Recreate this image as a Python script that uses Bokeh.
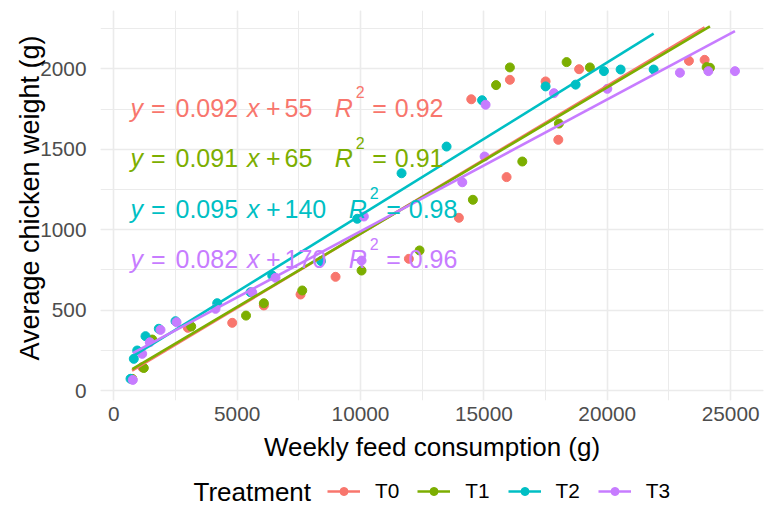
import numpy as np
from bokeh.plotting import figure
from bokeh.layouts import column
from bokeh.models import Range1d, SingleIntervalTicker, Label, Legend, LegendItem
from bokeh.embed import file_html
from bokeh.resources import INLINE

# ---------------- data ----------------
treatments = ["T0", "T1", "T2", "T3"]
colors = ["#F8766D", "#7CAE00", "#00BFC4", "#C77CFF"]

t0_feed = [740, 1151, 3000, 4800, 6081, 7569, 8988, 11960, 13986, 15920, 18016,
           14489, 16054, 17501, 18859, 23310, 23947]
t0_weight = [72, 145, 390, 421, 529, 597, 707, 819, 1074, 1327, 1559,
             1811, 1932, 1922, 1998, 2050, 2056]

t1_feed = [750, 1216, 1557, 3138, 5359, 6081, 7638, 10042, 12393, 14554, 16557,
           18040, 15494, 16054, 18353, 19297, 24029, 24162]
t1_weight = [72, 140, 317, 398, 466, 543, 622, 746, 871, 1186, 1424,
             1660, 1899, 2009, 2042, 2009, 2011, 2007]

t2_feed = [677, 811, 949, 1285, 1824, 2501, 4192, 5542, 6422, 8400, 9868,
           11663, 13488, 14927, 17501, 18718, 19865, 20542, 21880]
t2_weight = [73, 197, 249, 338, 384, 431, 543, 611, 715, 805, 1068,
             1351, 1517, 1805, 1891, 1902, 1986, 1996, 1996]

t3_feed = [770, 1151, 1459, 1893, 2542, 4123, 5611, 6555, 10042, 10135, 14124,
           15029, 15069, 17838, 20003, 22946, 24097, 25176]
t3_weight = [66, 228, 300, 377, 425, 508, 611, 701, 808, 1082, 1295,
             1455, 1777, 1849, 1876, 1976, 1986, 1986]

slopes = [0.092, 0.091, 0.095, 0.082]
intercepts = [55, 65, 140, 170]
r_squared = [0.92, 0.91, 0.98, 0.96]

x_ticks = [0, 5000, 10000, 15000, 20000, 25000]
y_ticks = [0, 500, 1000, 1500, 2000]

feeds = [t0_feed, t1_feed, t2_feed, t3_feed]
weights = [t0_weight, t1_weight, t2_weight, t3_weight]

# ---------------- main figure ----------------
FONT = "Liberation Sans"
p = figure(width=771, height=476, output_backend="svg", toolbar_location=None,
           x_range=Range1d(-539, 26333), y_range=Range1d(-62, 2363),
           min_border_left=100, min_border_right=8, min_border_top=10,
           min_border_bottom=76)
p.outline_line_color = None
p.background_fill_color = "white"
p.border_fill_color = "white"

p.xaxis.ticker = SingleIntervalTicker(interval=5000, num_minor_ticks=2)
p.yaxis.ticker = SingleIntervalTicker(interval=500, num_minor_ticks=2)
for ax in (p.xaxis, p.yaxis):
    ax.axis_line_color = None
    ax.major_tick_line_color = None
    ax.minor_tick_line_color = None
    ax.major_tick_out = 0
    ax.major_tick_in = 0
    ax.major_label_text_font = FONT
    ax.major_label_text_font_size = "20.8px"
    ax.major_label_text_color = "#4D4D4D"
    ax.axis_label_text_font = FONT
    ax.axis_label_text_font_style = "normal"
    ax.axis_label_text_color = "black"
p.xaxis.axis_label_text_font_size = "26px"
p.yaxis.axis_label_text_font_size = "27px"
p.xaxis.axis_label = "Weekly feed consumption (g)"
p.yaxis.axis_label = "\u00a0\u00a0Average chicken weight (g)"
p.xaxis.major_label_standoff = 2
p.yaxis.major_label_standoff = 10
p.xaxis.axis_label_standoff = 8
p.yaxis.axis_label_standoff = -8

for g in (p.xgrid, p.ygrid):
    g.grid_line_color = "#EBEBEB"
    g.grid_line_width = 1.6
    g.minor_grid_line_color = "#EBEBEB"
    g.minor_grid_line_width = 1.0

# points
for f, w, c in zip(feeds, weights, colors):
    p.scatter(f, w, size=9, color=c, line_color=c)

# regression lines over the observed feed range
for f, a, b, c in zip(feeds, slopes, intercepts, colors):
    xs = np.array([min(f), max(f)], dtype=float)
    p.line(xs, a * xs + b, line_color=c, line_width=2.6)

# equation labels (plotmath-like)
WID = {'0': .556, '1': .556, '2': .556, '3': .556, '4': .556, '5': .556,
       '6': .556, '7': .556, '8': .556, '9': .556, '.': .278}
def tw(s, fs):
    return sum(WID.get(ch, .556) for ch in s) * fs

FS = 25
for i, (a, b, r2, c) in enumerate(zip(slopes, intercepts, r_squared, colors)):
    base = 292.7 - 50.5 * i
    coef = f"{a:.3f}"
    icpt = f"{b:g}"
    rr = f"{r2:.2f}"
    x_y = 30
    x_eq = 50.5
    x_coef = 75
    x_x = x_coef + tw(coef, FS) + 9
    x_plus = x_x + 19
    x_icpt = x_x + 37.5
    x_R = x_icpt + tw(icpt, FS) + 22.5
    pieces = [("y", x_y, "italic", FS, 0), ("=", x_eq, "normal", FS, 0),
              (coef, x_coef, "normal", FS, 0), ("x", x_x, "italic", FS, 0),
              ("+", x_plus, "normal", FS, 0), (icpt, x_icpt, "normal", FS, 0),
              ("R", x_R, "italic", FS, 0), ("2", x_R + 21, "normal", 16, 15.6),
              ("=", x_R + 37.5, "normal", FS, 0), (rr, x_R + 60, "normal", FS, 0)]
    for txt, xx, style, fs, dy in pieces:
        p.add_layout(Label(x=xx, y=base + dy, x_units="screen", y_units="screen",
                           text=txt, text_font=FONT, text_font_style=style,
                           text_font_size=f"{fs}px", text_color=c,
                           text_baseline="alphabetic", text_align="left"))

# ---------------- legend strip ----------------
leg = figure(width=771, height=30, output_backend="svg", toolbar_location=None,
             x_range=Range1d(100, 763), y_range=Range1d(0, 30),
             x_axis_location=None, y_axis_location=None,
             min_border_left=100, min_border_right=8, min_border_top=0,
             min_border_bottom=0)
leg.grid.visible = False
leg.outline_line_color = None
leg.background_fill_color = "white"
leg.border_fill_color = "white"

items = []
for t, c in zip(treatments, colors):
    lr = leg.line([np.nan, np.nan], [np.nan, np.nan], line_color=c, line_width=2.6)
    sr = leg.scatter([np.nan], [np.nan], size=9, color=c, line_color=c)
    items.append(LegendItem(label=t, renderers=[lr, sr]))
legend = Legend(items=items, orientation="horizontal", location="center_left",
                glyph_width=33, glyph_height=20, label_standoff=15, spacing=18,
                padding=0, margin=227, border_line_color=None,
                background_fill_alpha=0, label_text_font=FONT,
                label_text_font_size="20.8px", label_text_color="black",
                label_height=20)
leg.add_layout(legend, "center")
leg.add_layout(Label(x=193, y=15, text="Treatment", text_font=FONT,
                     text_font_size="26px", text_color="black",
                     text_baseline="middle"))

layout = column(p, leg, spacing=0)
open("out.html", "w").write(file_html(layout, INLINE))
